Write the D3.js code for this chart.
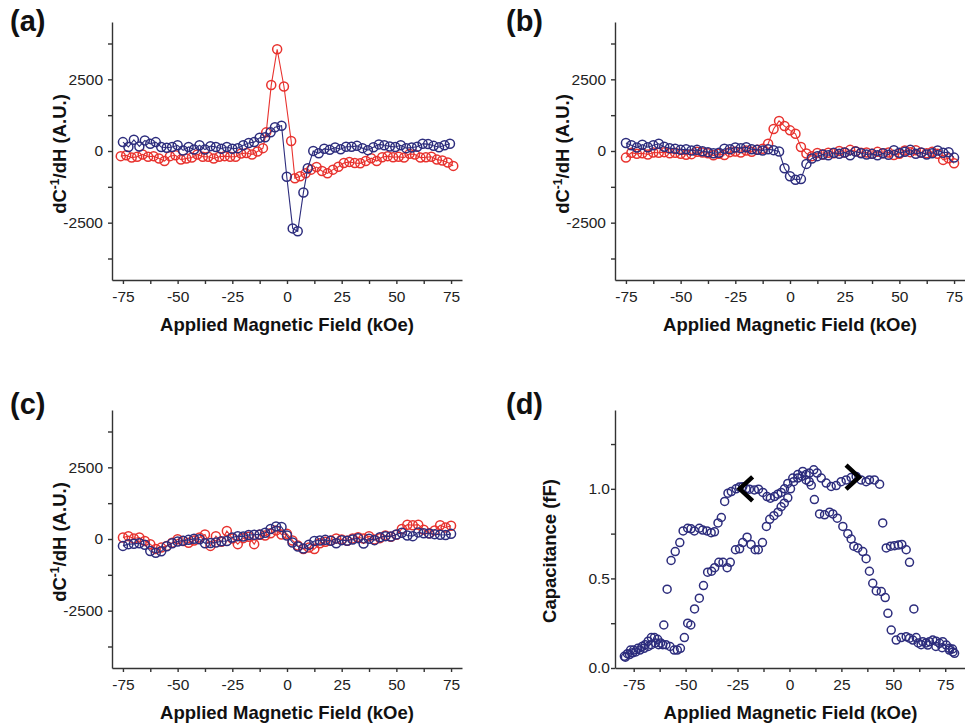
<!DOCTYPE html>
<html>
<head>
<meta charset="utf-8">
<script src="https://cdn.jsdelivr.net/npm/d3@7"></script>
<style>
  body { margin: 0; background: #fff; }
  svg { font-family: "Liberation Sans", Arial, sans-serif; }
  .axis path, .axis line { stroke: #333; stroke-width: 1.4; }
  .axis text { font-size: 15.5px; fill: #222; font-family: "Liberation Sans", Arial, sans-serif; }
  .title { font-size: 18.5px; font-weight: bold; fill: #111; }
  .panel_label { font-size: 29px; font-weight: bold; fill: #111; }
</style>
</head>
<body>
<div id="chart"></div>
<script>
// ---- data ----

// shared field axis for panels (b) and (c), kOe
var field = [-75,-72.5,-70,-67.5,-65,-62.5,-60,-57.5,-55,-52.5,-50,-47.5,-45,-42.5,-40,-37.5,-35,-32.5,-30,-27.5,
  -25,-22.5,-20,-17.5,-15,-12.5,-10,-7.5,-5,-2.5,0,2.5,5,7.5,10,12.5,15,17.5,20,22.5,
  25,27.5,30,32.5,35,37.5,40,42.5,45,47.5,50,52.5,55,57.5,60,62.5,65,67.5,70,72.5,75]

// panel (a)
var aRedField = [-76,-73.5,-71,-68.5,-66,-63.5,-61,-58.5,-56,-53.5,-51,-48.5,-46,-43.5,-41,-38.5,-36,-33.5,-31,-28.5,
  -26,-23.5,-21,-18.5,-16,-13.5,-11,-9.5,-7.2,-4.5,-1.4,1.9,3.6,6,8.5,11,13.5,16,18.5,21,
  23.5,26,28.5,31,33.5,36,38.5,41,43.5,46,48.5,51,53.5,56,58.5,61,63.5,66,68.5,71,73.5,76]
var aRed = [-180,-150,-230,-200,-120,-200,-180,-260,-350,-180,-150,-300,-260,-230,-120,-200,-200,-260,-200,-180,
  -200,-200,-90,-70,-120,-20,100,650,2300,3550,2250,350,-950,-880,-780,-650,-560,-700,-780,-650,
  -550,-420,-380,-420,-430,-350,-250,-350,-220,-180,-220,-200,-230,-100,-120,-230,-220,-200,-300,-330,-400,-520]
var aBlueField = [-75,-72.5,-70,-67.5,-65,-62.5,-60,-57.5,-55,-52.5,-50,-47.5,-45,-42.5,-40,-37.5,-35,-32.5,-30,-27.5,
  -25,-22.5,-20,-17.5,-15,-12.5,-10,-7.5,-5.5,-2.5,-0.1,2.6,4.9,7.5,9.5,12,14.5,17,19.5,22,
  24.5,27,29.5,32,34.5,37,39.5,42,44.5,47,49.5,52,54.5,57,59.5,62,64.5,67,69.5,72,74.5]
var aBlue = [310,140,390,160,370,250,310,140,115,140,200,20,140,50,200,50,170,140,80,140,
  80,100,200,280,310,460,480,650,830,880,-900,-2700,-2800,-1450,-600,0,-80,80,40,120,
  60,150,150,180,100,30,130,230,200,160,140,200,100,120,150,250,240,180,130,200,250]

// panel (b)
var bRed = [-230,-60,-100,-80,-120,-50,-60,-40,-80,-60,-100,-130,-110,-30,-50,-80,-150,-100,-140,-40,
  -20,-50,20,-30,40,80,250,770,1050,870,720,600,140,-90,-180,-70,-120,-60,-80,0,
  -50,40,-10,-60,-50,-100,-30,-80,-50,-140,-100,20,-40,30,-60,-80,-30,-100,-310,-250,-430]
var bBlue = [280,200,120,220,130,200,250,150,100,80,40,60,20,40,-10,-40,-80,-60,80,60,
  120,100,130,60,40,20,60,30,-20,-600,-880,-1000,-980,-450,-260,-180,-120,-150,-60,-100,
  -50,-150,-20,-80,-120,-100,-150,-80,-130,30,-60,-30,40,-100,-50,-120,-80,20,-60,-40,-230]

// panel (c)
var cRed = [50,100,20,50,-70,-180,-350,-300,-240,-130,-10,-70,-130,-50,50,160,-240,100,-100,280,
  20,-180,30,80,-180,150,120,200,300,160,180,-50,-230,-350,-300,-350,-150,-100,-50,20,
  -20,-60,20,60,20,100,-20,30,120,80,150,350,500,480,500,320,200,300,480,400,460]
var cBlue = [-240,-180,-170,-150,-200,-420,-480,-430,-250,-150,-90,-60,-30,10,-10,-150,-140,-120,-80,-70,
  50,100,90,140,150,160,220,350,440,420,120,-120,-260,-330,-200,-70,-50,-30,-60,-150,
  -40,-60,-20,30,-160,10,-40,60,100,90,160,220,120,100,230,200,190,170,150,140,180]

// panel (d) capacitance, two field sweeps
var dFieldA = [-79.5,-78,-76.5,-75,-73,-71,-69.5,-68,-66.5,-65,-63.5,-62,-60.5,-58.9,-57,-55,-52.8,-51.2,-49,-47.4,
  -45.8,-43.4,-41.8,-39.7,-37.7,-36.1,-34.4,-32.8,-31.2,-29.6,-28,-25.7,-24.1,-22.5,-20.9,-19.3,-16.9,-14.9,-12.8,-10.8,
  -9.2,-7.2,-5.6,-4,-2.4,-0.8,1.6,4,6.4,8,9.6,11.7,13.3,15.3,17.7,20.1,22.5,24.9,27.3,29.7,
  32.1,34.5,36.9,38.5,40.9,43.4,44.9,46.6,48.7,50.6,52.5,54.1,56.2,57.8,59.9,62,63.4,65.8,66.6,69,
  70.5,72.3,73.5,75.5,77,78.5,79.5]
var dCapA = [0.065,0.08,0.10,0.10,0.11,0.12,0.13,0.15,0.17,0.17,0.16,0.14,0.24,0.44,0.60,0.65,0.70,0.765,0.78,0.777,
  0.765,0.78,0.77,0.765,0.755,0.76,0.81,0.84,0.93,0.976,0.985,1.0,1.01,1.012,1.0,0.998,0.994,0.998,0.98,0.957,
  0.948,0.957,0.97,0.98,1.0,1.03,1.06,1.08,1.097,1.08,1.088,1.106,1.088,1.06,1.032,1.013,1.018,1.04,1.05,1.063,
  1.069,1.05,1.04,1.05,1.05,1.026,0.81,0.67,0.68,0.683,0.686,0.69,0.66,0.59,0.33,0.14,0.13,0.14,0.128,0.156,
  0.12,0.138,0.113,0.128,0.10,0.106,0.082]
var dFieldB = [-79,-77,-75.5,-74,-72,-70,-68,-66.5,-64.5,-63,-61,-59.5,-57.5,-55.5,-54,-52.5,-50.6,-49,-47.5,-45.7,
  -43.4,-41.4,-39.4,-37.5,-36,-34,-32,-30,-28.5,-26,-24,-22.5,-20.4,-18.5,-16.5,-15,-13,-11.1,-9.5,-7.5,
  -5.5,-4,-2.5,-0.8,0.5,2,4,6,8,9.5,10.5,12,14.5,16.9,19.3,20.9,23,25.7,28.1,29.7,
  31,32.9,35.3,36.9,38.5,40.1,41.8,44.2,46.1,47.4,49,51.4,53.8,56.2,57.8,59.4,61,64.2,67.4,70.6,
  73.8,77,78.7]
var dCapB = [0.06,0.075,0.085,0.09,0.10,0.11,0.12,0.13,0.14,0.13,0.13,0.13,0.12,0.10,0.10,0.11,0.17,0.25,0.24,0.33,
  0.39,0.46,0.535,0.54,0.56,0.59,0.59,0.56,0.59,0.66,0.665,0.70,0.73,0.69,0.66,0.66,0.70,0.79,0.83,0.85,
  0.87,0.90,0.92,0.95,1.0,1.04,1.06,1.07,1.05,1.04,1.02,0.94,0.86,0.855,0.87,0.86,0.836,0.79,0.75,0.72,
  0.68,0.67,0.65,0.61,0.54,0.473,0.43,0.427,0.393,0.305,0.212,0.156,0.17,0.175,0.166,0.156,0.17,0.147,0.147,0.15,
  0.147,0.11,0.09]

// arrow marks in (d): [field, capacitance, direction]
var dArrows = [[-24, 1.0, -1], [33.5, 1.065, 1]]

// ticks
var fieldTicks = [-75,-62.5,-50,-37.5,-25,-12.5,0,12.5,25,37.5,50,62.5,75]
var fieldLabels = [-75,-50,-25,0,25,50,75]
var dcTicks = [-3750,-2500,-1250,0,1250,2500,3750]
var dcLabels = [-2500,0,2500]
var capTicks = [0,0.25,0.5,0.75,1.0,1.25]
var capLabels = [0,0.5,1.0]

var red = "#e8322e"
var blue = "#2d2d7d"

var width = 965
var height = 725

var svg = d3.select("#chart")
            .append("svg")
            .attr("width", width)
            .attr("height", height)

// Builds the axes of one panel and returns its scales
function draw_panel(cfg){
  var x = d3.scaleLinear().domain(cfg.xdomain).range(cfg.xrange)
  var y = d3.scaleLinear().domain(cfg.ydomain).range(cfg.yrange)

  var xaxis = d3.axisBottom(x)
                .tickValues(fieldTicks)
                .tickSize(4)
                .tickSizeOuter(0)
                .tickPadding(7)
                .tickFormat(function(d){ return fieldLabels.indexOf(d) >= 0 ? d : "" })

  var yaxis = d3.axisLeft(y)
                .tickValues(cfg.yticks)
                .tickSize(4)
                .tickSizeOuter(0)
                .tickPadding(cfg.ypad)
                .tickFormat(function(d){ return cfg.ylabels.indexOf(d) >= 0 ? cfg.yfmt(d) : "" })

  svg.append("g")
    .attr("class", "axis")
    .attr("transform", "translate(0," + cfg.yrange[0] + ")")
    .call(xaxis)

  svg.append("g")
    .attr("class", "axis")
    .attr("transform", "translate(" + cfg.xrange[0] + ",0)")
    .call(yaxis)

  // axis titles
  svg.append("text")
    .attr("class", "title")
    .attr("text-anchor", "middle")
    .attr("x", (cfg.xrange[0] + cfg.xrange[1]) / 2)
    .attr("y", cfg.yrange[0] + 51)
    .text("Applied Magnetic Field (kOe)")

  var yt = svg.append("text")
    .attr("class", "title")
    .attr("text-anchor", "middle")
    .attr("transform", "translate(" + cfg.ytitle[0] + "," + cfg.ytitle[1] + ") rotate(-90)")
  if(cfg.ysup){
    yt.append("tspan").text("dC")
    yt.append("tspan").attr("font-size", "12px").attr("dy", "-7").text("-1")
    yt.append("tspan").attr("dy", "7").text("/dH (A.U.)")
  }else{
    yt.text(cfg.ytext)
  }

  svg.append("text")
    .attr("class", "panel_label")
    .attr("x", cfg.label[0])
    .attr("y", cfg.label[1])
    .text(cfg.name)

  return {x: x, y: y}
}

// Draws one series as open circles, optionally joined by a thin line
function draw_series(sc, xs, ys, color, with_line, r){
  var pts = xs.map(function(d, i){ return [d, ys[i]] })
  if(with_line){
    svg.append("path")
      .datum(pts)
      .attr("fill", "none")
      .attr("stroke", color)
      .attr("stroke-width", 1.1)
      .attr("d", d3.line().x(function(d){ return sc.x(d[0]) }).y(function(d){ return sc.y(d[1]) }))
  }
  svg.append("g")
    .selectAll("circle")
    .data(pts)
    .enter()
    .append("circle")
    .attr("cx", function(d){ return sc.x(d[0]) })
    .attr("cy", function(d){ return sc.y(d[1]) })
    .attr("r", r)
    .attr("fill", "none")
    .attr("stroke", color)
    .attr("stroke-width", 1.5)
}

var dcCfg = {yticks: dcTicks, ylabels: dcLabels, yfmt: function(d){ return d }, ypad: 5, ysup: true, ydomain: [-4500, 4500]}

var pa = draw_panel(Object.assign({}, dcCfg, {
  name: "(a)", label: [10, 31],
  xdomain: [-80, 80], xrange: [112, 462], yrange: [280, 22], ytitle: [66, 154]
}))
draw_series(pa, aRedField, aRed, red, true, 4.5)
draw_series(pa, aBlueField, aBlue, blue, true, 4.5)

var pb = draw_panel(Object.assign({}, dcCfg, {
  name: "(b)", label: [506, 31],
  xdomain: [-80, 80], xrange: [615, 965], yrange: [280, 22], ytitle: [569, 154]
}))
draw_series(pb, field, bRed, red, true, 4.5)
draw_series(pb, field, bBlue, blue, true, 4.5)

var pc = draw_panel(Object.assign({}, dcCfg, {
  name: "(c)", label: [10, 414],
  xdomain: [-80, 80], xrange: [112, 462], yrange: [668, 410], ytitle: [66, 542]
}))
draw_series(pc, field, cRed, red, true, 4.5)
draw_series(pc, field, cBlue, blue, true, 4.5)

var pd = draw_panel({
  name: "(d)", label: [506, 414],
  xdomain: [-84, 85], xrange: [615, 966], ydomain: [0, 1.44], yrange: [668, 410],
  yticks: capTicks, ylabels: capLabels, yfmt: d3.format(".1f"), ypad: 1,
  ysup: false, ytext: "Capacitance (fF)", ytitle: [556, 551]
})
draw_series(pd, dFieldA, dCapA, blue, false, 4)
draw_series(pd, dFieldB, dCapB, blue, false, 4)

// sweep direction chevrons
svg.append("g")
  .selectAll("path")
  .data(dArrows)
  .enter()
  .append("path")
  .attr("fill", "none")
  .attr("stroke", "#000")
  .attr("stroke-width", 4.5)
  .attr("d", function(d){
    var ax = pd.x(d[0]), ay = pd.y(d[1])
    var bx = ax - d[2] * 13
    return "M" + bx + "," + (ay - 12) + "L" + ax + "," + ay + "L" + bx + "," + (ay + 12)
  })
</script>
</body>
</html>
